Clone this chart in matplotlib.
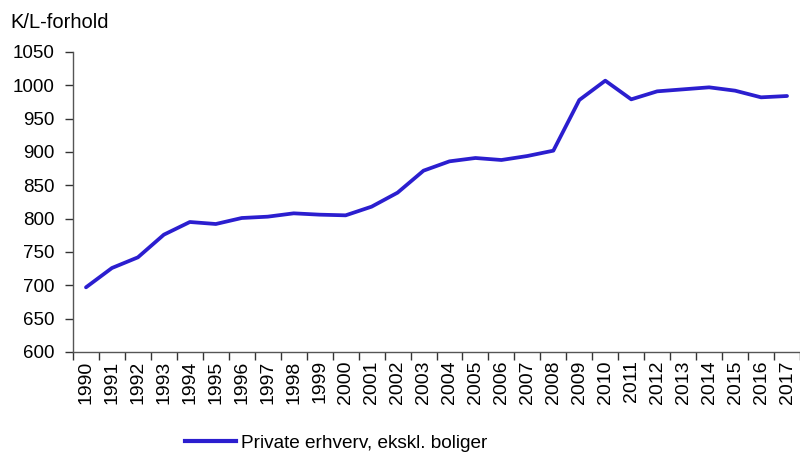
import numpy as np
import matplotlib.pyplot as plt
from matplotlib.lines import Line2D

plt.rcParams['font.family'] = ['Liberation Sans', 'DejaVu Sans']

years = list(range(1990, 2018))
kl_ratio = [697, 726, 742, 776, 795, 792, 801, 803, 808, 806, 805, 818, 839, 872,
            886, 891, 888, 894, 902, 978, 1007, 979, 991, 994, 997, 992, 982, 984]
series_name = 'Private erhverv, ekskl. boliger'
line_color = '#2b1ecf'

fig = plt.figure(figsize=(8, 4.53), dpi=100)
ax = fig.add_axes([73 / 800, 101 / 453, 727 / 800, 300 / 453])

x = np.arange(len(years))
ax.plot(x, kl_ratio, color=line_color, lw=2.7, solid_capstyle='round', solid_joinstyle='round')

ax.set_xlim(-0.5, len(years) - 0.5)
ax.set_ylim(600, 1050)
ax.set_yticks(range(600, 1051, 50))

# tick marks between years, labels centred on each year
ax.set_xticks(np.arange(-0.5, len(years), 1))
ax.set_xticklabels([])
ax.set_xticks(x, minor=True)
ax.set_xticklabels([str(y) for y in years], minor=True, rotation=90)
ax.tick_params(axis='x', which='minor', length=0, pad=6, labelsize=14)
ax.tick_params(axis='x', which='major', length=6, width=1, color='#333333')
ax.tick_params(axis='y', length=6, width=1, color='#333333', labelsize=13.5, pad=7)

for s in ['top', 'right']:
    ax.spines[s].set_visible(False)
for s in ['left', 'bottom']:
    ax.spines[s].set_color('#555555')
    ax.spines[s].set_linewidth(1)

fig.text(10 / 800, 1 - 22 / 453, 'K/L-forhold', fontsize=14.5, va='center', ha='left')

handle = Line2D([], [], color=line_color, lw=3)
fig.legend([handle], [series_name], loc='center left', bbox_to_anchor=(185 / 800, 1 - 443 / 453),
           frameon=False, fontsize=13.7, handlelength=2.7, handletextpad=0.25,
           borderaxespad=0, borderpad=0)

fig.savefig('out.png', dpi=100)
